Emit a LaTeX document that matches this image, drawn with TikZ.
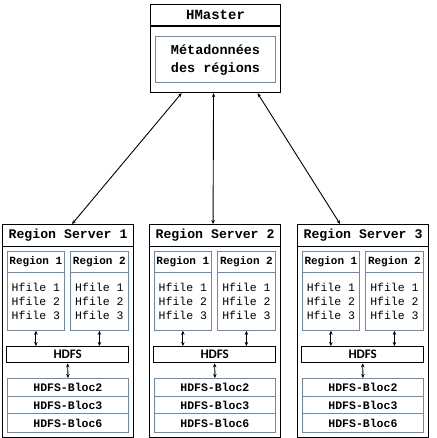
\documentclass[tikz,border=0pt]{standalone}
\usepackage{fontspec}
\setmonofont{Liberation Mono}
\newfontfamily\hdfsfont{Carlito}
\usetikzlibrary{arrows.meta,positioning}
\definecolor{regblue}{HTML}{6A88B8}

\begin{document}
\begin{tikzpicture}[x=1pt,y=-1pt,
  blk/.style={draw,line width=1.1pt,inner sep=0pt,anchor=north west},
  blue box/.style={draw=regblue,line width=0.8pt,inner sep=0pt,anchor=north west,font=\ttfamily},
  link/.style={{Stealth[length=4pt,width=3.5pt]}-{Stealth[length=4pt,width=3.5pt]},line width=0.9pt},
]
  \useasboundingbox (0,0) rectangle (436,438);

  % HMaster
  \node[blk,minimum width=130pt,minimum height=21pt,font=\ttfamily\bfseries\fontsize{14}{16}\selectfont] (hm) at (150,4) {HMaster};
  \node[blk,minimum width=130pt,minimum height=66pt,below=0pt of hm.south west,anchor=north west] (hmbody) {};
  \node[blue box,minimum width=120pt,minimum height=46pt,anchor=center,align=left,font=\ttfamily\bfseries\fontsize{13.5}{18}\selectfont] (meta) at (hmbody.center) {Métadonnées\\des régions};

  % region servers
  \foreach \i/\x in {1/2,2/149,3/297}{
    \node[blk,minimum width=131pt,minimum height=22pt,font=\ttfamily\bfseries\fontsize{13.2}{15}\selectfont] (rs\i) at (\x,224) {Region Server \i};
    \node[blk,minimum width=131pt,minimum height=191pt] (rsbody\i) at (\x,246) {};
    % regions
    \node[blue box,minimum width=57pt,minimum height=21pt,font=\ttfamily\bfseries\fontsize{11}{13}\selectfont] (r\i a) at (\x+5,251) {Region 1};
    \node[blue box,minimum width=57pt,minimum height=58pt,align=left,font=\ttfamily\fontsize{11.5}{14}\selectfont] (rb\i a) at (\x+5,272) {Hfile 1\\Hfile 2\\Hfile 3};
    \node[blue box,minimum width=58pt,minimum height=21pt,font=\ttfamily\bfseries\fontsize{11}{13}\selectfont] (r\i b) at (\x+68,251) {Region 2};
    \node[blue box,minimum width=58pt,minimum height=58pt,align=left,font=\ttfamily\fontsize{11.5}{14}\selectfont] (rb\i b) at (\x+68,272) {Hfile 1\\Hfile 2\\Hfile 3};
    % HDFS
    \node[blk,line width=1.4pt,minimum width=122pt,minimum height=16pt,font=\hdfsfont\bfseries\fontsize{13}{14}\selectfont] (hdfs\i) at (\x+4,346) {HDFS};
    \draw[link] (rb\i a.south) -- (rb\i a.south |- hdfs\i.north);
    \draw[link] (rb\i b.south) -- (rb\i b.south |- hdfs\i.north);
    % blocs
    \node[blue box,minimum width=121pt,minimum height=18pt,font=\ttfamily\bfseries\fontsize{11.5}{13}\selectfont] (bl\i a) at (\x+5,378) {HDFS-Bloc2};
    \node[blue box,minimum width=121pt,minimum height=17pt,font=\ttfamily\bfseries\fontsize{11.5}{13}\selectfont] (bl\i b) at (\x+5,396) {HDFS-Bloc3};
    \node[blue box,minimum width=121pt,minimum height=19pt,font=\ttfamily\bfseries\fontsize{11.5}{13}\selectfont] (bl\i c) at (\x+5,413) {HDFS-Bloc6};
    \draw[link] (hdfs\i.south) -- (bl\i a.north);
  }

  % master links
  \draw[link] ([xshift=-34pt]hmbody.south) -- ([xshift=4pt]rs1.north);
  \draw[link] ([xshift=-2pt]hmbody.south) -- ([xshift=-2pt]rs2.north);
  \draw[link] ([xshift=42pt]hmbody.south) -- ([xshift=-23pt]rs3.north);
\end{tikzpicture}
\end{document}
